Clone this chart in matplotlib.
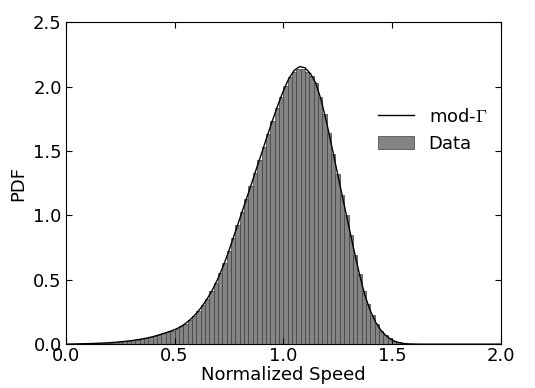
import numpy as np
import matplotlib
matplotlib.use("Agg")
import matplotlib.pyplot as plt

plt.rcParams['mathtext.fontset'] = 'cm'
plt.rcParams['font.family'] = ['DejaVu Sans']

# histogram of normalized speed (bin width 0.02, left edges)
bin_width = 0.02
bin_left = np.arange(0.0, 1.70, bin_width)
bar_heights = [
    0.000, 0.001, 0.002, 0.003, 0.004, 0.004, 0.005, 0.007, 0.009, 0.010,
    0.012, 0.015, 0.018, 0.021, 0.025, 0.029, 0.034, 0.040, 0.046, 0.054,
    0.063, 0.073, 0.083, 0.094, 0.106, 0.120, 0.138, 0.160, 0.188, 0.221,
    0.259, 0.302, 0.352, 0.410, 0.476, 0.550, 0.633, 0.725, 0.825, 0.925,
    1.025, 1.125, 1.225, 1.329, 1.430, 1.532, 1.635, 1.735, 1.831, 1.921,
    2.003, 2.073, 2.115, 2.135, 2.135, 2.115, 2.085, 2.025, 1.917, 1.785,
    1.637, 1.480, 1.320, 1.160, 1.003, 0.847, 0.693, 0.545, 0.413, 0.308,
    0.224, 0.157, 0.105, 0.071, 0.044, 0.025, 0.013, 0.006, 0.003, 0.001,
    0.001, 0.000, 0.000, 0.000, 0.000,
]

# fitted mod-Gamma pdf
fit_x = np.arange(0.0, 2.0001, 0.025)
fit_y = [
    0.000, 0.001, 0.002, 0.003, 0.004, 0.005, 0.007, 0.009, 0.011, 0.014,
    0.018, 0.022, 0.027, 0.033, 0.040, 0.048, 0.058, 0.070, 0.083, 0.097,
    0.112, 0.132, 0.160, 0.195, 0.238, 0.290, 0.352, 0.425, 0.510, 0.610,
    0.725, 0.850, 0.975, 1.100, 1.225, 1.355, 1.480, 1.610, 1.735, 1.855,
    1.965, 2.060, 2.125, 2.155, 2.145, 2.100, 2.025, 1.890, 1.715, 1.520,
    1.320, 1.120, 0.925, 0.730, 0.545, 0.380, 0.260, 0.170, 0.105, 0.062,
    0.032, 0.015, 0.006, 0.002, 0.001, 0.000, 0.000, 0.000, 0.000, 0.000,
    0.000, 0.000, 0.000, 0.000, 0.000, 0.000, 0.000, 0.000, 0.000, 0.000,
    0.000,
]

fig = plt.figure(figsize=(5.35, 3.88), dpi=100)
ax = fig.add_axes([0.123, 0.113, 0.813, 0.830])

ax.bar(bin_left, bar_heights, width=bin_width, align='edge',
       facecolor='#848484', edgecolor='#3c3c3c', linewidth=0.5, label='Data')
ax.plot(fit_x, fit_y, color='black', linewidth=1.0, label=r'mod-$\Gamma$')

ax.set_xlim(0, 2.0)
ax.set_ylim(0, 2.5)
ax.set_xticks(np.arange(0, 2.01, 0.5))
ax.set_yticks(np.arange(0, 2.51, 0.5))
ax.xaxis.set_major_formatter(matplotlib.ticker.FormatStrFormatter('%.1f'))
ax.yaxis.set_major_formatter(matplotlib.ticker.FormatStrFormatter('%.1f'))
ax.tick_params(direction='in', top=True, right=True, length=4, labelsize=13)
ax.tick_params(axis='x', pad=2)
ax.tick_params(axis='y', pad=3)
ax.set_xlabel('Normalized Speed', fontsize=13, labelpad=1)
ax.set_ylabel('PDF', fontsize=13)

ax.legend(loc='upper right', bbox_to_anchor=(1.007, 0.785), frameon=False,
          fontsize=13, handlelength=2.0)

fig.savefig('out.png', dpi=100, facecolor='white')
